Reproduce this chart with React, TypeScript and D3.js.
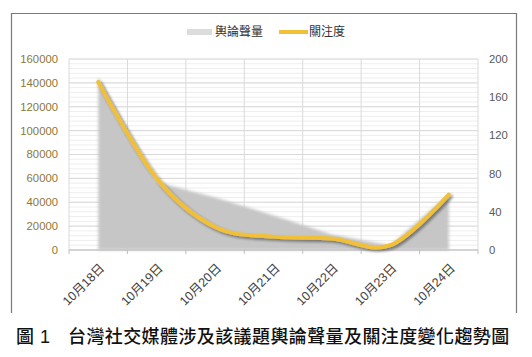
import React from 'react';
import * as d3 from 'd3';

const categories = ['10月18日', '10月19日', '10月20日', '10月21日', '10月22日', '10月23日', '10月24日'];
const volume = [145000, 57000, 44000, 29000, 13000, 4000, 47000];
const attention = [176, 75, 24, 14, 12, 5, 58];
const leftTicks = [0, 20000, 40000, 60000, 80000, 100000, 120000, 140000, 160000];
const rightTicks = [0, 40, 80, 120, 160, 200];
const seriesNames = ['輿論聲量', '關注度'];
const captionLabel = '圖';
const captionNum = '1';
const captionText = '台灣社交媒體涉及該議題輿論聲量及關注度變化趨勢圖';

const W = 532;
const H = 357;
const plot = { left: 69, right: 478, top: 59, bottom: 250 };

export default function App() {
  const x = d3.scaleBand<string>().domain(categories).range([plot.left, plot.right]).padding(0);
  const cx = (c: string) => (x(c) as number) + x.bandwidth() / 2;
  const yL = d3.scaleLinear().domain([0, 160000]).range([plot.bottom, plot.top]);
  const yR = d3.scaleLinear().domain([0, 200]).range([plot.bottom, plot.top]);

  const minorTicks = d3.range(0, 160001, 4000);
  const bounds = categories.map((c) => x(c) as number).concat([plot.right]);

  const area = d3
    .area<number>()
    .x((_, i) => cx(categories[i]))
    .y0(yL(0))
    .y1((d) => yL(d))
    .curve(d3.curveLinear);
  const line = d3
    .line<number>()
    .x((_, i) => cx(categories[i]))
    .y((d) => yR(d))
    .curve(d3.curveCardinal.tension(0));

  const font = '"Liberation Sans", "Noto Sans CJK TC", sans-serif';
  const cjk = '"Noto Sans CJK TC", "Liberation Sans", sans-serif';

  return (
    <svg
      width={W}
      height={H}
      style={{ position: 'absolute', left: 0, top: 0, background: '#fff' }}
      xmlns="http://www.w3.org/2000/svg"
    >
      <defs>
        <filter id="soft" x="-10%" y="-10%" width="120%" height="120%">
          <feGaussianBlur stdDeviation="1.8" />
        </filter>
        <filter id="shadow" x="-10%" y="-10%" width="120%" height="130%">
          <feGaussianBlur in="SourceAlpha" stdDeviation="1.5" result="b" />
          <feOffset in="b" dx="1.5" dy="2" result="o" />
          <feComponentTransfer in="o" result="s">
            <feFuncA type="linear" slope="0.45" />
          </feComponentTransfer>
          <feMerge>
            <feMergeNode in="s" />
            <feMergeNode in="SourceGraphic" />
          </feMerge>
        </filter>
      </defs>
      <rect x={0} y={0} width={W} height={H} fill="#fff" />

      {/* border */}
      <path d="M11.5,313 V13.5 H516.5 V313" fill="none" stroke="#7a7a7a" strokeWidth={1.2} />

      {/* minor gridlines */}
      {minorTicks.map((t) => (
        <line key={'m' + t} x1={plot.left} x2={plot.right} y1={yL(t)} y2={yL(t)} stroke="#eeeeee" strokeWidth={1} />
      ))}
      {/* major gridlines */}
      {leftTicks.map((t) => (
        <line key={'g' + t} x1={plot.left} x2={plot.right} y1={yL(t)} y2={yL(t)} stroke="#d9d9d9" strokeWidth={1} />
      ))}
      {/* vertical gridlines */}
      {bounds.map((b, i) => (
        <line key={'v' + i} x1={b} x2={b} y1={plot.top} y2={plot.bottom} stroke="#dadada" strokeWidth={1} />
      ))}

      {/* area */}
      <path d={area(volume) || ''} fill="#c6c6c6" filter="url(#soft)" />

      {/* x axis */}
      <line x1={plot.left} x2={plot.right} y1={plot.bottom} y2={plot.bottom} stroke="#bfbfbf" strokeWidth={1} />
      {bounds.map((b, i) => (
        <line key={'t' + i} x1={b} x2={b} y1={plot.bottom} y2={plot.bottom + 4} stroke="#bfbfbf" strokeWidth={1} />
      ))}

      {/* line */}
      <path d={line(attention) || ''} fill="none" stroke="#F2C037" strokeWidth={4} strokeLinecap="round" filter="url(#shadow)" />

      {/* left axis labels */}
      {leftTicks.map((t) => (
        <text key={'l' + t} x={58} y={yL(t)} dy="0.35em" textAnchor="end" fontFamily={font} fontSize={11.3} fill="#8c7738">
          {t}
        </text>
      ))}
      {/* right axis labels */}
      {rightTicks.map((t) => (
        <text key={'r' + t} x={489} y={yR(t)} dy="0.35em" textAnchor="start" fontFamily={font} fontSize={11.3} fill="#595959">
          {t}
        </text>
      ))}
      {/* x labels */}
      {categories.map((c) => (
        <text
          key={c}
          transform={`translate(${cx(c) + 7},${plot.bottom + 19}) rotate(-45)`}
          textAnchor="end"
          fontFamily={font}
          fontSize={12.5}
          fill="#404040"
        >
          {c}
        </text>
      ))}

      {/* legend */}
      <rect x={187} y={29} width={25} height={6} fill="#dcdcdc" />
      <text x={215} y={32} dy="0.35em" fontFamily={cjk} fontSize={12} fill="#333">
        {seriesNames[0]}
      </text>
      <line x1={279} x2={308} y1={32} y2={32} stroke="#F2C037" strokeWidth={4} />
      <text x={309} y={32} dy="0.35em" fontFamily={cjk} fontSize={12} fill="#333">
        {seriesNames[1]}
      </text>

      {/* caption */}
      <text x={16} y={343} fontFamily={cjk} fontSize={18} fontWeight={500} fill="#111">
        {captionLabel}
      </text>
      <text x={40} y={343} fontFamily={font} fontSize={18} fontWeight={400} fill="#111">
        {captionNum}
      </text>
      <text x={68} y={343} fontFamily={cjk} fontSize={18} fontWeight={500} letterSpacing={0.4} fill="#111">
        {captionText}
      </text>
    </svg>
  );
}
